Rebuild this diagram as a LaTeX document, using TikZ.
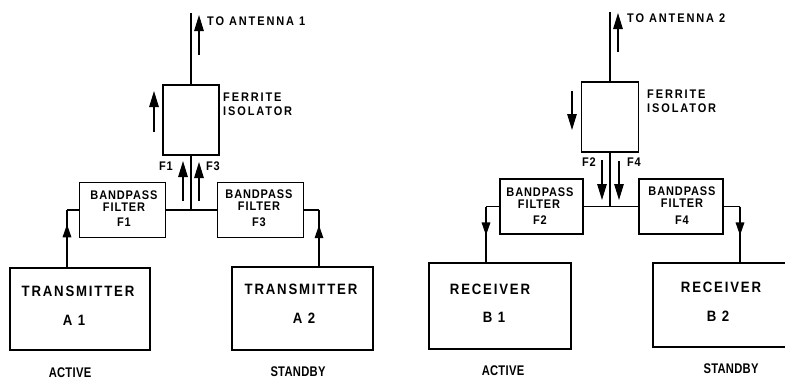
\documentclass[tikz,border=0pt]{standalone}
\usepackage{fontspec}
\setmainfont{Liberation Sans}
\newfontfamily\fsmall{Liberation Sans}[LetterSpace=7,FakeStretch=0.88]
\newfontfamily\fspread{Liberation Sans}[LetterSpace=15,FakeStretch=0.88]
\newfontfamily\fwide{Liberation Sans}[LetterSpace=12,FakeStretch=0.88]
\newfontfamily\fplain{Liberation Sans}[LetterSpace=2,FakeStretch=0.8]
\usetikzlibrary{arrows.meta,decorations.markings}
\begin{document}
\begin{tikzpicture}[x=1pt,y=-1pt,
  box/.style={draw, line width=1.7pt, inner sep=0pt},
  conn/.style={line width=1.6pt},
  ind/.style={line width=1.2pt, -{Triangle[length=16pt,width=9.5pt]}},
  sl/.style={font=\fsmall\bfseries\fontsize{12.5}{13}\selectfont, inner sep=0pt},
  wl/.style={font=\fspread\bfseries\fontsize{12.5}{13}\selectfont, inner sep=0pt},
  bl/.style={font=\fwide\bfseries\fontsize{15}{16}\selectfont, inner sep=0pt},
  pl/.style={font=\fplain\bfseries\fontsize{14}{15}\selectfont, inner sep=0pt},
  midarrow/.style={postaction={decorate}, decoration={markings,
    mark=at position #1 with {\arrow{Triangle[length=13pt,width=8.5pt]}}}}
]
\useasboundingbox (0,0) rectangle (785,381);
\clip (0,0) rectangle (785,381);

% ---------------- left half ----------------
\node[box, minimum width=56pt, minimum height=70pt] (iso1) at (191,120) {};
\node[box, minimum width=86pt, minimum height=55pt] (bpf1) at (122.5,210) {};
\node[box, minimum width=86pt, minimum height=55pt] (bpf3) at (260.5,210) {};
\node[box, minimum width=140pt, minimum height=82pt] (tx1) at (80,309) {};
\node[box, minimum width=141pt, minimum height=83pt] (tx2) at (302.5,308.5) {};

\draw[conn] (iso1.north) -- ++(0,-71);
\draw[conn] (iso1.south) -- (iso1.south |- bpf1.east);
\draw[conn] (bpf1.east) -- (bpf3.west);
\coordinate (k1) at (67,210);
\draw[conn] (bpf1.west) -- (k1);
\draw[conn, midarrow=0.75] (k1 |- tx1.north) -- (k1);
\coordinate (k3) at (319,210);
\draw[conn] (bpf3.east) -- (k3);
\draw[conn, midarrow=0.73] (k3 |- tx2.north) -- (k3);

\coordinate (a1s) at (199,55);  \coordinate (a1e) at (199,15);
\coordinate (i1s) at (154,132); \coordinate (i1e) at (154,91);
\coordinate (f1s) at (183,201); \coordinate (f1e) at (183,161);
\coordinate (f3s) at (199,201); \coordinate (f3e) at (199,162);
\draw[ind] (a1s) -- (a1e);
\draw[ind] (i1s) -- (i1e);
\draw[ind] (f1s) -- (f1e);
\draw[ind] (f3s) -- (f3e);

\node[wl, anchor=west] (ta1) at (207,21) {TO ANTENNA 1};
\node[wl, anchor=west] (fe1) at (223,97) {FERRITE};
\node[wl, anchor=west] (is1) at (223,111) {ISOLATOR};
\node[sl] (lf1) at (166,166) {F1};
\node[sl] (lf3) at (213,166) {F3};
\node[sl] (b1a) at (124,195) {BANDPASS};
\node[sl] (b1b) at (124,207) {FILTER};
\node[sl] (b1c) at (124,222) {F1};
\node[sl] (b3a) at (259,194) {BANDPASS};
\node[sl] (b3b) at (259,206) {FILTER};
\node[sl] (b3c) at (259,222) {F3};
\node[bl] (t1a) at (78,291) {TRANSMITTER};
\node[bl] (t1b) at (74,320) {A 1};
\node[bl] (t2a) at (301,289) {TRANSMITTER};
\node[bl] (t2b) at (304,318) {A 2};
\node[pl] (ac1) at (70,373) {ACTIVE};
\node[pl] (sb1) at (298,372) {STANDBY};

% ---------------- right half ----------------
\node[box, minimum width=57pt, minimum height=70pt] (iso2) at (610,117) {};
\node[box, minimum width=83pt, minimum height=55pt] (bpf2) at (541.5,206.5) {};
\node[box, minimum width=84pt, minimum height=55pt] (bpf4) at (681,206.5) {};
\node[box, minimum width=142pt, minimum height=86pt] (rx1) at (500,306) {};
\node[box, minimum width=147pt, minimum height=84pt] (rx2) at (726.5,305) {};

\draw[conn] (iso2.north) -- ++(0,-69);
\draw[conn] (iso2.south) -- (iso2.south |- bpf2.east);
\draw[conn] (bpf2.east) -- (bpf4.west);
\coordinate (k2) at (486,206.5);
\draw[conn] (bpf2.west) -- (k2);
\draw[conn, midarrow=0.52] (k2) -- (k2 |- rx1.north);
\coordinate (k4) at (740,206.5);
\draw[conn] (bpf4.east) -- (k4);
\draw[conn, midarrow=0.52] (k4) -- (k4 |- rx2.north);

\coordinate (a2s) at (618,52);  \coordinate (a2e) at (618,13);
\coordinate (i2s) at (572,91);  \coordinate (i2e) at (572,130);
\coordinate (f2s) at (602,160); \coordinate (f2e) at (602,200);
\coordinate (f4s) at (619,161); \coordinate (f4e) at (619,200);
\draw[ind] (a2s) -- (a2e);
\draw[ind] (i2s) -- (i2e);
\draw[ind] (f2s) -- (f2e);
\draw[ind] (f4s) -- (f4e);

\node[wl, anchor=west] (ta2) at (627,18) {TO ANTENNA 2};
\node[wl, anchor=west] (fe2) at (647,94) {FERRITE};
\node[wl, anchor=west] (is2) at (647,108) {ISOLATOR};
\node[sl] (lf2) at (589,162) {F2};
\node[sl] (lf4) at (634,162) {F4};
\node[sl] (b2a) at (540,192) {BANDPASS};
\node[sl] (b2b) at (539,204) {FILTER};
\node[sl] (b2c) at (540,220) {F2};
\node[sl] (b4a) at (682,191) {BANDPASS};
\node[sl] (b4b) at (682,203) {FILTER};
\node[sl] (b4c) at (682,220) {F4};
\node[bl] (r1a) at (490,289) {RECEIVER};
\node[bl] (r1b) at (494,317) {B 1};
\node[bl] (r2a) at (721,287) {RECEIVER};
\node[bl] (r2b) at (718,316) {B 2};
\node[pl] (ac2) at (503,371) {ACTIVE};
\node[pl] (sb2) at (731,369) {STANDBY};
\end{tikzpicture}
\end{document}
